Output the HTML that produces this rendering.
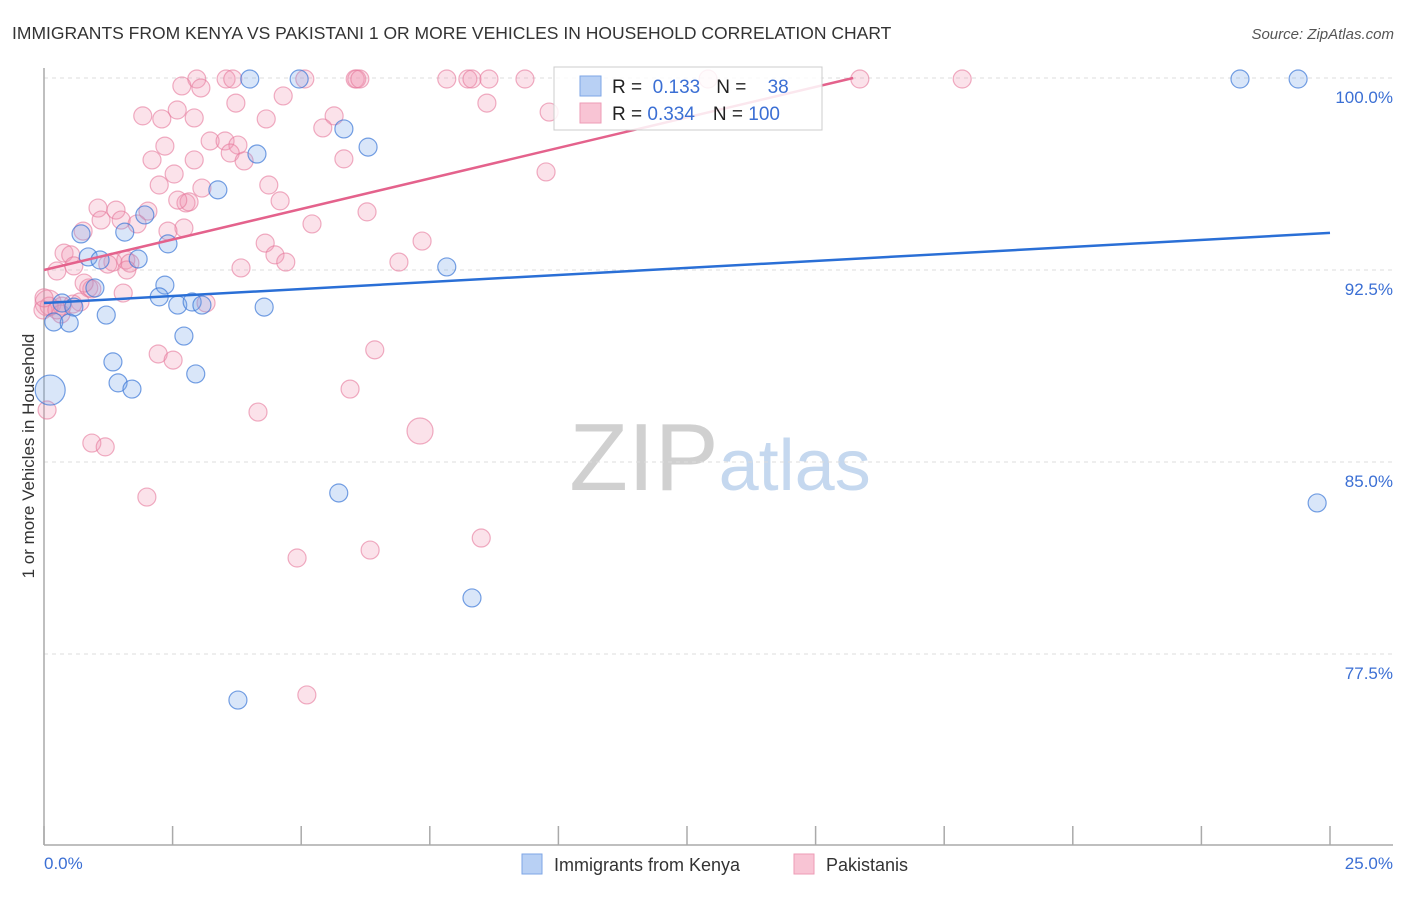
<!DOCTYPE html>
<html><head><meta charset="utf-8"><style>
body{margin:0;background:#fff;font-family:"Liberation Sans",sans-serif;}
svg text{font-family:"Liberation Sans",sans-serif;}
</style></head><body>
<svg id="chart" width="1406" height="892" xmlns="http://www.w3.org/2000/svg">
<text x="12" y="39" font-size="17.5" fill="#333">IMMIGRANTS FROM KENYA VS PAKISTANI 1 OR MORE VEHICLES IN HOUSEHOLD CORRELATION CHART</text>
<text x="1394" y="39" font-size="15" fill="#555" text-anchor="end" font-style="italic">Source: ZipAtlas.com</text>
<text transform="translate(34,456) rotate(-90)" font-size="17" fill="#333" text-anchor="middle">1 or more Vehicles in Household</text>
<text x="720" y="490" font-size="96" fill="#d6d6d6" text-anchor="middle" font-family="Liberation Serif"><tspan fill="#d0d0d0">ZIP</tspan><tspan fill="#c5d8ef" font-family="Liberation Sans" font-size="72">atlas</tspan></text>
<g id="grid"></g><g id="axes"></g><g id="pts"></g><g id="lines"></g>
<g>
<rect x="554" y="67" width="268" height="63" fill="#fff" fill-opacity="0.85" stroke="#ccc"/>
<rect x="580" y="76" width="21" height="20" fill="#b8d0f4" stroke="#7ea6e6"/>
<rect x="580" y="103" width="21" height="20" fill="#f8c4d4" stroke="#ee9bb6"/>
<text x="612" y="93" font-size="19" fill="#222">R = <tspan fill="#3b6fd4">&#160;0.133</tspan><tspan dx="16">N = </tspan><tspan fill="#3b6fd4" dx="16">38</tspan></text>
<text x="612" y="120" font-size="19" fill="#222">R = <tspan fill="#3b6fd4">0.334</tspan><tspan dx="18">N = </tspan><tspan fill="#3b6fd4">100</tspan></text>
</g>
<g>
<rect x="522" y="854" width="20" height="20" fill="#b8d0f4" stroke="#7ea6e6"/>
<text x="554" y="871" font-size="18" fill="#333">Immigrants from Kenya</text>
<rect x="794" y="854" width="20" height="20" fill="#f8c4d4" stroke="#ee9bb6"/>
<text x="826" y="871" font-size="18" fill="#333">Pakistanis</text>
</g>
</svg>
<script>
const yTicks=[100,92.5,85,77.5];
const yTickLabels=["100.0%","92.5%","85.0%","77.5%"];
const xTickLabels=["0.0%","25.0%"];
const kenyaPx=[[250,79],[299,79],[1240,79],[1298,79],[344,129],[368,147],[257,154],[218,190],[145,215],[125,232],[81,234],[168,244],[88,257],[100,260],[138,259],[447,267],[165,285],[95,288],[159,297],[62,303],[178,305],[192,302],[202,305],[264,307],[74,307],[106,315],[54,322],[69,323],[184,336],[113,362],[196,374],[118,383],[132,389],[50,390],[339,493],[1317,503],[472,598],[238,700]];
const pakPx=[[197,79],[226,79],[233,79],[305,79],[355,79],[357,79],[360,79],[447,79],[468,79],[472,79],[489,79],[525,79],[708,79],[860,79],[962,79],[182,86],[201,88],[236,103],[177,110],[487,103],[143,116],[162,119],[266,119],[283,96],[334,116],[549,112],[323,128],[210,141],[225,141],[165,146],[238,145],[230,153],[152,160],[194,160],[244,161],[344,159],[174,174],[546,172],[159,185],[269,185],[202,188],[186,203],[189,202],[280,201],[98,208],[116,210],[148,211],[367,212],[101,220],[121,220],[137,224],[312,224],[83,231],[184,228],[168,231],[265,243],[422,241],[64,253],[71,255],[275,255],[286,262],[113,262],[126,260],[108,264],[130,263],[399,262],[241,268],[74,266],[57,271],[127,270],[89,288],[92,289],[123,293],[48,303],[206,303],[80,302],[62,306],[49,306],[61,314],[43,310],[158,354],[375,350],[173,360],[350,389],[258,412],[47,410],[420,431],[92,443],[105,447],[147,497],[481,538],[370,550],[297,558],[307,695],[73,304],[57,310],[84,283],[44,298],[194,118],[178,200]];
// convert to data values (x in %, y in %)
const kenyaX=kenyaPx.map(p=>+((p[0]-44)/51.44).toFixed(2));
const kenyaY=kenyaPx.map(p=>+(100-(p[1]-78)/25.6).toFixed(2));
const pakX=pakPx.map(p=>+((p[0]-44)/51.44).toFixed(2));
const pakY=pakPx.map(p=>+(100-(p[1]-78)/25.6).toFixed(2));
const kenyaBig=[33];
const pakBig=[86,73];
const kenyaTrend=[[0,91.21],[25,93.95]];
const pakTrend=[[0,92.5],[15.73,100]];
const X=v=>44+v*51.44, Y=v=>78+(100-v)*25.6;
const NS="http://www.w3.org/2000/svg";
function mk(t,a,parent){const e=document.createElementNS(NS,t);for(const k in a)e.setAttribute(k,a[k]);document.getElementById(parent).appendChild(e);return e;}
yTicks.forEach((t,i)=>{
 const l=mk('line',{x1:44,x2:1393,y1:Y(t),y2:Y(t),stroke:'#ddd','stroke-dasharray':'4,4'},'grid');
 
 
 const tx=mk('text',{x:1393,y:Y(t)+25,'font-size':17,fill:'#3b6fd4','text-anchor':'end'},'grid');tx.textContent=yTickLabels[i];
 
 
});
const ax=mk('line',{x1:44,x2:44,y1:68,y2:845,stroke:'#aaa','stroke-width':1.5},'axes');


const bx=mk('line',{x1:44,x2:1393,y1:845,y2:845,stroke:'#aaa','stroke-width':1.5},'axes');


for(let i=0;i<=10;i++){const t=mk('line',{x1:X(i*2.5),x2:X(i*2.5),y1:826,y2:845,stroke:'#aaa','stroke-width':1.5},'axes');
 
 }
[[0,44,'start'],[1,1393,'end']].forEach(([i,x,a])=>{const t=mk('text',{x:x,y:869,'font-size':17,fill:'#3b6fd4','text-anchor':a},'axes');t.textContent=xTickLabels[i];
 
 });
pakX.forEach((x,i)=>{const c=mk('circle',{cx:X(x),cy:Y(pakY[i]),r:pakBig.includes(i)?13:9,fill:'rgba(242,150,180,0.28)',stroke:'rgba(230,120,155,0.6)','stroke-width':1.2},'pts');
 
 });
kenyaX.forEach((x,i)=>{const c=mk('circle',{cx:X(x),cy:Y(kenyaY[i]),r:kenyaBig.includes(i)?15:9,fill:'rgba(120,165,235,0.28)',stroke:'rgba(60,120,215,0.7)','stroke-width':1.2},'pts');
 
 });
const kl=mk('line',{x1:X(kenyaTrend[0][0]),y1:Y(kenyaTrend[0][1]),x2:X(kenyaTrend[1][0]),y2:Y(kenyaTrend[1][1]),stroke:'#2a6fd6','stroke-width':2.5},'lines');


const pl=mk('line',{x1:X(pakTrend[0][0]),y1:Y(pakTrend[0][1]),x2:X(pakTrend[1][0]),y2:Y(pakTrend[1][1]),stroke:'#e4628c','stroke-width':2.5},'lines');


</script>
</body></html>
